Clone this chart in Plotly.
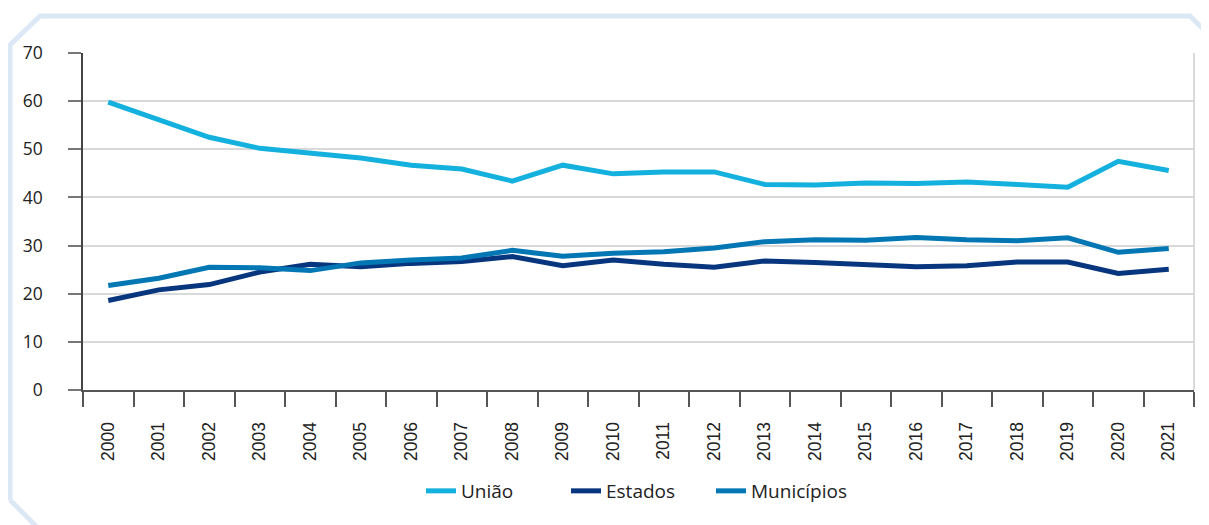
import plotly.graph_objects as go

years = [str(y) for y in range(2000, 2022)]

uniao = [59.8, 56.2, 52.5, 50.2, 49.3, 48.2, 46.7, 45.9, 43.4, 46.7, 44.9,
         45.3, 45.3, 42.7, 42.6, 43.0, 42.9, 43.2, 42.7, 42.1, 47.5, 45.6]
estados = [18.6, 20.8, 21.9, 24.5, 26.1, 25.6, 26.3, 26.7, 27.7, 25.8, 27.0,
           26.1, 25.5, 26.8, 26.5, 26.1, 25.6, 25.8, 26.6, 26.6, 24.2, 25.1]
municipios = [21.7, 23.2, 25.5, 25.4, 24.8, 26.4, 27.0, 27.4, 29.0, 27.8, 28.4,
              28.7, 29.5, 30.8, 31.2, 31.1, 31.7, 31.2, 31.0, 31.6, 28.6, 29.4]

series_names = ["União", "Estados", "Municípios"]
series_colors = ["#14b0de", "#07367f", "#0277b4"]

# the page has an 8px body margin, so work in page pixels and shift
OFF = 8
W, H = 1209 - OFF, 525 - OFF
L, R, T, B = 83 - OFF, 1194 - OFF, 53 - OFF, 390 - OFF


def px(x, y):
    # page pixel -> paper coords
    x, y = x - OFF, y - OFF
    return (x - L) / (R - L), (B - y) / (B - T)


fig = go.Figure()
for name, vals, col in zip(series_names, [uniao, estados, municipios], series_colors):
    fig.add_trace(go.Scatter(
        x=years, y=vals, name=name, mode="lines",
        line=dict(color=col, width=5),
    ))

# light blue frame with chamfered corners
pts = [(10, 500), (10, 45), (40, 16), (1190, 16), (1214, 40)]
path = "M " + " L ".join("%.4f %.4f" % px(x, y) for x, y in pts)
bl = [(10, 500), (38, 528)]
path2 = "M " + " L ".join("%.4f %.4f" % px(x, y) for x, y in bl)

fig.update_layout(
    shapes=[
        dict(type="path", path=path, xref="paper", yref="paper",
             line=dict(color="#dce8f6", width=5), layer="below"),
        dict(type="path", path=path2, xref="paper", yref="paper",
             line=dict(color="#dce8f6", width=5), layer="below"),
        dict(type="line", xref="paper", yref="paper", x0=1, x1=1, y0=0, y1=1,
             line=dict(color="#cfcfcf", width=1.5)),
    ],
    width=W, height=H,
    margin=dict(l=L, r=W - R, t=T, b=H - B, autoexpand=False),
    paper_bgcolor="white",
    plot_bgcolor="white",
    font=dict(family="Open Sans", size=17, color="#222222"),
    showlegend=True,
    legend=dict(orientation="h", x=0.5, xanchor="center",
                y=(B - (491 - OFF)) / (B - T), yanchor="middle",
                font=dict(size=19), entrywidth=100, traceorder="normal"),
    xaxis=dict(
        type="category", tickangle=-90, showgrid=False,
        showline=True, linecolor="#555555", linewidth=2,
        ticks="outside", ticklen=15, tickcolor="#555555", tickwidth=1.5,
        tickson="boundaries", ticklabelstandoff=23,
        tickfont=dict(family="Liberation Sans", size=17.5, color="#222222"),
        range=[-0.5, len(years) - 0.5],
    ),
    yaxis=dict(
        range=[0, 70], dtick=10, showgrid=True, gridcolor="#d9d9d9", gridwidth=1.5,
        showline=True, linecolor="#444444", linewidth=1.5,
        ticks="outside", ticklen=13, tickcolor="#777777", tickwidth=1.5,
        ticklabelstandoff=22, zeroline=False,
        tickfont=dict(size=17.5, color="#222222"),
    ),
)

fig.write_html("out.html")
